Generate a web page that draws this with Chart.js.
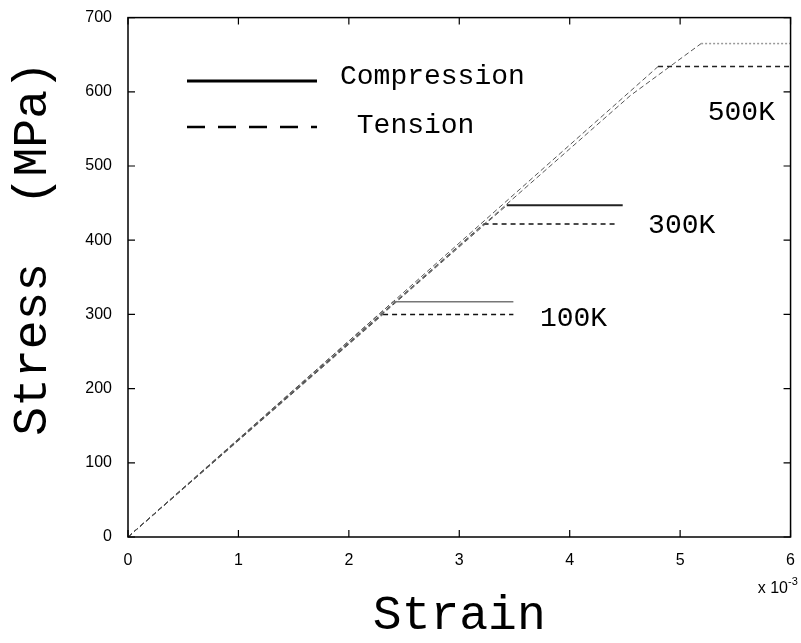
<!DOCTYPE html>
<html>
<head>
<meta charset="utf-8">
<script src="https://cdn.jsdelivr.net/npm/chart.js@4"></script>
<style>
  html, body { margin: 0; padding: 0; background: #fff; }
  .wrap { width: 801px; height: 643px; position: relative; }
</style>
</head>
<body>
<div class="wrap"><canvas class="chart"></canvas></div>
<script>
// Stress-strain, bilinear curves (strain in 1e-3)

const comp100Strain = [0, 2.40, 3.49];
const comp100Stress = [0, 317, 317];
const comp300Strain = [0, 3.43, 4.48];
const comp300Stress = [0, 447, 447];
const comp500Strain = [0, 4.55, 5.19, 6.0];
const comp500Stress = [0, 595, 665, 665];

const tens100Strain = [0, 2.31, 3.49];
const tens100Stress = [0, 300, 300];
const tens300Strain = [0, 3.22, 4.42];
const tens300Stress = [0, 422, 422];
const tens500Strain = [0, 4.80, 6.0];
const tens500Stress = [0, 634, 634];

const tempLabels = ["100K", "300K", "500K"];
const tempLabelStrain = [3.73, 4.71, 5.25];
const tempLabelStress = [295, 420, 572];

const xTicks = [0, 1, 2, 3, 4, 5, 6];
const yTicks = [0, 100, 200, 300, 400, 500, 600, 700];

const mono = "'Liberation Mono', 'Courier New', monospace";
const sans = "'Liberation Sans', Arial, sans-serif";

const pts = (xs, ys) => xs.map((v, i) => ({ x: v, y: ys[i] }));

// loading part thin dashed, last segment (plateau) in its own style
function series(label, xs, ys, color, width, dash) {
  const last = xs.length - 2;
  return {
    label,
    data: pts(xs, ys),
    borderColor: color,
    borderWidth: width,
    borderDash: dash,
    showLine: true,
    pointRadius: 0,
    fill: false,
    segment: {
      borderWidth: (c) => (c.p0DataIndex < last ? 1 : width),
      borderDash: (c) => (c.p0DataIndex < last ? [5, 3] : dash),
      borderColor: (c) => (c.p0DataIndex < last ? "#555" : color),
    },
  };
}

const data = {
  datasets: [
    series("Compression 100K", comp100Strain, comp100Stress, "#777", 1.5, []),
    series("Compression 300K", comp300Strain, comp300Stress, "#222", 2, []),
    series("Compression 500K", comp500Strain, comp500Stress, "#999", 1.5, [2, 2]),
    series("Tension 100K", tens100Strain, tens100Stress, "#111", 1.5, [5, 4]),
    series("Tension 300K", tens300Strain, tens300Stress, "#111", 1.5, [5, 4]),
    series("Tension 500K", tens500Strain, tens500Stress, "#222", 1.5, [5, 4]),
  ],
};

const overlay = {
  id: "overlay",
  afterDraw(chart) {
    const { ctx, chartArea: a, scales } = chart;
    const x = scales.x, y = scales.y;
    ctx.save();
    // box
    ctx.strokeStyle = "#000";
    ctx.lineWidth = 1.5;
    ctx.setLineDash([]);
    ctx.strokeRect(a.left, a.top, a.right - a.left, a.bottom - a.top);
    // inward ticks on all sides
    ctx.lineWidth = 1.2;
    ctx.beginPath();
    xTicks.forEach((v) => {
      const px = x.getPixelForValue(v);
      ctx.moveTo(px, a.bottom); ctx.lineTo(px, a.bottom - 7);
      ctx.moveTo(px, a.top); ctx.lineTo(px, a.top + 7);
    });
    yTicks.forEach((v) => {
      const py = y.getPixelForValue(v);
      ctx.moveTo(a.left, py); ctx.lineTo(a.left + 7, py);
      ctx.moveTo(a.right, py); ctx.lineTo(a.right - 7, py);
    });
    ctx.stroke();

    // legend
    ctx.strokeStyle = "#000";
    ctx.lineWidth = 3;
    ctx.beginPath();
    ctx.moveTo(187, 81); ctx.lineTo(317, 81);
    ctx.stroke();
    ctx.lineWidth = 2.5;
    ctx.setLineDash([18, 13]);
    ctx.beginPath();
    ctx.moveTo(187, 127); ctx.lineTo(317, 127);
    ctx.stroke();
    ctx.setLineDash([]);
    ctx.fillStyle = "#000";
    ctx.font = "28px " + mono;
    ctx.textAlign = "left";
    ctx.textBaseline = "alphabetic";
    ctx.fillText("Compression", 340, 84);
    ctx.fillText(" Tension", 340, 133);

    // temperature labels
    ctx.textBaseline = "middle";
    tempLabels.forEach((t, i) => {
      ctx.fillText(t, x.getPixelForValue(tempLabelStrain[i]), y.getPixelForValue(tempLabelStress[i]));
    });

    // axis multiplier
    ctx.textBaseline = "alphabetic";
    ctx.textAlign = "right";
    ctx.font = "16px " + sans;
    ctx.fillText("x 10", 788, 593);
    ctx.textAlign = "left";
    ctx.font = "11px " + sans;
    ctx.fillText("-3", 788, 585);
    ctx.restore();
  },
};

const config = {
  type: "scatter",
  data,
  options: {
    responsive: true,
    maintainAspectRatio: false,
    animation: false,
    layout: { padding: { left: 0, top: 14, right: 5, bottom: 0 } },
    plugins: {
      legend: { display: false },
      tooltip: { enabled: false },
    },
    scales: {
      x: {
        type: "linear",
        min: 0,
        max: 6,
        afterFit: (s) => { s.height = 106; },
        grid: { display: false },
        border: { display: false },
        ticks: {
          stepSize: 1,
          padding: 6,
          color: "#000",
          font: { family: sans, size: 16 },
          maxRotation: 0,
        },
        title: {
          display: true,
          text: "Strain",
          color: "#000",
          font: { family: mono, size: 48, lineHeight: 1 },
          padding: { top: 0, bottom: 3 },
        },
      },
      y: {
        type: "linear",
        min: 0,
        max: 700,
        afterFit: (s) => { s.width = 128; },
        grid: { display: false },
        border: { display: false },
        ticks: {
          stepSize: 100,
          padding: 8,
          color: "#000",
          font: { family: sans, size: 16 },
        },
        title: {
          display: true,
          text: "  Stress  (MPa)",
          color: "#000",
          font: { family: mono, size: 48, lineHeight: 1 },
          padding: { top: 9, bottom: 0 },
        },
      },
    },
  },
  plugins: [overlay],
};

const myChart = new Chart(document.querySelector(".chart").getContext("2d"), config);
</script>
</body>
</html>
